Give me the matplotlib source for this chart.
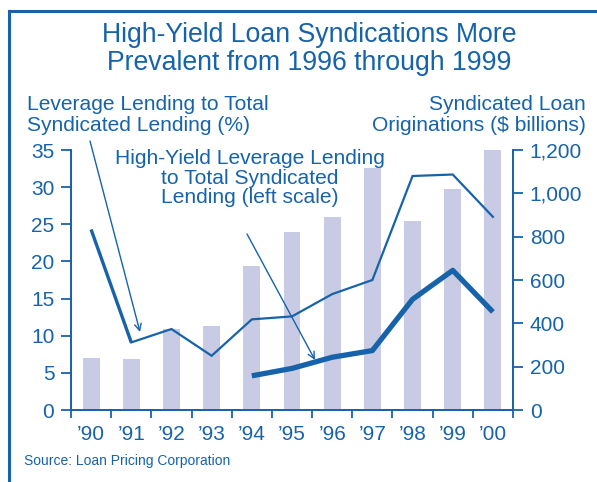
import matplotlib
matplotlib.use('Agg')
import matplotlib.pyplot as plt
import numpy as np

plt.rcParams['font.family'] = ['Liberation Sans', 'DejaVu Sans']

# 数据
years = ["’90", "’91", "’92", "’93", "’94", "’95", "’96", "’97", "’98", "’99", "’00"]
originations = [240, 235, 374, 388, 665, 820, 890, 1117, 873, 1020, 1200]   # $ billions (right)
leverage_pct = [24.3, 9.1, 10.9, 7.3, 12.2, 12.6, 15.6, 17.5, 31.5, 31.7, 26.0]  # % (left)
hy_years = ["’94", "’95", "’96", "’97", "’98", "’99", "’00"]
high_yield_pct = [4.6, 5.6, 7.1, 8.0, 14.9, 18.8, 13.2]  # % (left)

BLUE = '#1763aa'
BAR = '#c8cbe3'
W, H = 597, 482

fig = plt.figure(figsize=(W / 100, H / 100), dpi=100)
fig.patch.set_facecolor('white')

# 外框（上边和左边）
fig.add_artist(plt.Line2D([9 / W, 9 / W], [0, 1 - 11 / H], color=BLUE, lw=2.2))
fig.add_artist(plt.Line2D([9 / W, 1], [1 - 11 / H, 1 - 11 / H], color=BLUE, lw=2.2))

ax = fig.add_axes([71 / W, 72 / H, 442 / W, 260 / H])
ax2 = ax.twinx()
ax.set_zorder(ax2.get_zorder() + 1)
ax.patch.set_visible(False)

x = np.arange(len(years))
ax2.bar(x, originations, width=0.42, color=BAR, zorder=1)
ax2.set_ylim(0, 1200)
ax2.set_yticks(range(0, 1201, 200))
ax2.set_yticklabels([f'{v:,}' for v in range(0, 1201, 200)])

ax.plot(x[:2], leverage_pct[:2], color=BLUE, lw=2.4, solid_capstyle='butt')
ax.plot(x[1:], leverage_pct[1:], color=BLUE, lw=1.6, solid_joinstyle='miter')
hx = [years.index(y) for y in hy_years]
ax.plot(hx, high_yield_pct, color=BLUE, lw=3.8, solid_capstyle='butt')

ax.set_ylim(0, 35)
ax.set_yticks(range(0, 36, 5))
ax.set_xlim(-0.5, len(years) - 0.5)
ax.set_xticks(x)
ax.set_xticklabels(years)
ax.set_xticks(np.arange(-0.5, len(years), 1), minor=True)

for a in (ax, ax2):
    a.spines['top'].set_visible(False)
    for s in a.spines.values():
        s.set_color(BLUE)
        s.set_linewidth(1.3)
ax.tick_params(axis='y', colors=BLUE, labelsize=15, length=7, width=1.3, pad=5)
ax2.tick_params(axis='y', colors=BLUE, labelsize=15, length=7, width=1.3, pad=5)
ax.tick_params(axis='x', which='major', colors=BLUE, labelsize=15, length=0, pad=11)
ax.tick_params(axis='x', which='minor', colors=BLUE, length=6, width=1.3)

# 标题和文字
fig.text(309 / W, 1 - 49 / H, 'High-Yield Loan Syndications More\nPrevalent from 1996 through 1999',
         ha='center', va='center', fontsize=19.2, color=BLUE, linespacing=1.05)
fig.text(27 / W, 1 - 115 / H, 'Leverage Lending to Total\nSyndicated Lending (%)',
         ha='left', va='center', fontsize=15.1, color=BLUE, linespacing=1.15)
fig.text(586 / W, 1 - 115 / H, 'Syndicated Loan\nOriginations ($ billions)',
         ha='right', va='center', fontsize=15.1, color=BLUE, linespacing=1.15)
fig.text(250 / W, 1 - 178 / H, 'High-Yield Leverage Lending\nto Total Syndicated\nLending (left scale)',
         ha='center', va='center', fontsize=15.1, color=BLUE, linespacing=1.06)
fig.text(24 / W, 1 - 461 / H, 'Source: Loan Pricing Corporation',
         ha='left', va='center', fontsize=10, color=BLUE)

# 箭头
arrow = dict(arrowstyle='->', color=BLUE, lw=1.0, shrinkA=0, shrinkB=0, mutation_scale=12)
ax.annotate('', xy=(140, H - 332), xytext=(90, H - 141), xycoords='figure pixels',
            textcoords='figure pixels', arrowprops=arrow, annotation_clip=False)
ax.annotate('', xy=(315, H - 360), xytext=(247, H - 234), xycoords='figure pixels',
            textcoords='figure pixels', arrowprops=arrow, annotation_clip=False)

plt.savefig('out.png', dpi=100)
plt.close()
